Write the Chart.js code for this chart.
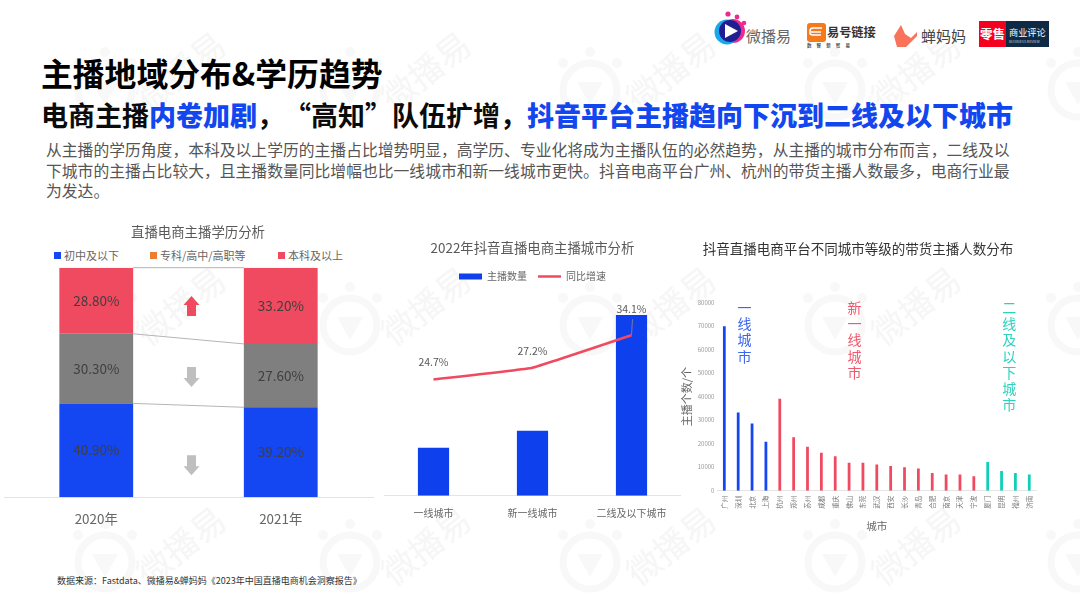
<!DOCTYPE html>
<html lang="zh-CN">
<head>
<meta charset="utf-8">
<title>主播地域分布&学历趋势</title>
<script src="https://cdn.jsdelivr.net/npm/chart.js@4"></script>
<style>
html,body{margin:0;padding:0;background:#fff;}
body{width:1080px;height:608px;position:relative;overflow:hidden;font-family:"Noto Sans CJK SC","Noto Sans",sans-serif;text-spacing-trim:space-all;font-feature-settings:"chws" 0;}
.abs{position:absolute;white-space:nowrap;}
canvas{position:absolute;}
#h1{left:41px;top:49px;font-size:31.8px;line-height:46px;font-weight:700;color:#000;}
#h2{left:41px;top:95px;font-size:27px;line-height:40px;font-weight:700;color:#0b0b0b;}
#h2 b{color:#1246ee;}
#intro{left:46px;top:140px;font-size:15.8px;line-height:20.5px;color:#555;}
#source{left:57px;top:574px;font-size:9px;line-height:14px;color:#333;}
#legend1{left:0;top:247px;font-size:11px;line-height:16px;color:#666;}
#legend1 span{position:absolute;top:0;white-space:nowrap;}
#legend1 i{position:absolute;left:-10px;top:5px;width:6.5px;height:6.5px;}
.wm{position:absolute;font-size:34px;line-height:40px;color:#f6f6f6;transform:translate(-50%,-50%) rotate(-38deg);white-space:nowrap;}
#bg,#logos{position:absolute;left:0;top:0;}
</style>
</head>
<body>
<svg id="bg" width="1080" height="608"></svg>
<div id="marks"></div>

<svg id="logos" width="1080" height="60">
  <circle cx="728" cy="14" r="2.6" fill="#ee2a8f"/><circle cx="737" cy="17" r="2.4" fill="#ee2a8f"/><circle cx="744" cy="23" r="2.3" fill="#ee2a8f"/>
  <circle cx="733" cy="31" r="12" fill="#ee2a8f"/><circle cx="727" cy="32" r="12.5" fill="#18a8ee"/><circle cx="730" cy="31" r="11" fill="#1f1f92"/>
  <path d="M725 24 L738 31 L725 38 Z" fill="#fff"/>
  <text x="746" y="42" font-size="15" fill="#666">微播易</text>
  <rect x="807" y="23" width="19" height="19" rx="3" fill="#f47a1c"/>
  <path d="M822 28 H813 Q810 28 810 31 V33 Q810 35 813 35 H821 M811 32 H821" stroke="#fff" stroke-width="1.6" fill="none"/>
  <text x="827" y="37" font-size="12.2" font-weight="700" fill="#333">易号链接</text>
  <text x="807" y="47" font-size="4.5" font-weight="700" fill="#555" xml:space="preserve">数     智     新     贸     易</text>
  <path d="M894 36 L901 25 L905 34 L911 38 L917 32 L917 36 L906 47 L897 47 Z" fill="#f8735a"/>
  <text x="921" y="42" font-size="15" fill="#444">蝉妈妈</text>
  <rect x="979" y="21" width="27" height="26" fill="#f5001e"/>
  <rect x="1006" y="21" width="43" height="26" fill="#0e2a44"/>
  <text x="980" y="39" font-size="12.5" font-weight="700" fill="#fff">零售</text>
  <text x="1009" y="36" font-size="9.2" fill="#fff">商业评论</text>
  <text x="1009" y="43" font-size="3.6" fill="#ccd">BUSINESS REVIEW</text>
</svg>

<div class="abs" id="h1">主播地域分布&amp;学历趋势</div>
<div class="abs" id="h2">电商主播<b>内卷加剧</b>，“高知”队伍扩增，<b>抖音平台主播趋向下沉到二线及以下城市</b></div>
<div class="abs" id="intro">从主播的学历角度，本科及以上学历的主播占比增势明显，高学历、专业化将成为主播队伍的必然趋势，从主播的城市分布而言，二线及以<br>下城市的主播占比较大，且主播数量同比增幅也比一线城市和新一线城市更快。抖音电商平台广州、杭州的带货主播人数最多，电商行业最<br>为发达。</div>

<div class="abs" id="legend1"></div>
<canvas id="eduChart" style="left:4px;top:222px" width="388" height="314"></canvas>
<canvas id="tierChart" style="left:384px;top:238px" width="297" height="290"></canvas>
<canvas id="cityChart" style="left:680px;top:236px" width="400" height="300"></canvas>

<div class="abs" id="source">数据来源：Fastdata、微播易&amp;蝉妈妈《2023年中国直播电商机会洞察报告》</div>

<script>
// education chart
const eduYears = ["2020年","2021年"];
const eduNames = ["初中及以下","专科/高中/高职等","本科及以上"];
const eduLow = [40.9,39.2];
const eduMid = [30.3,27.6];
const eduHigh = [28.8,33.2];

// city tier chart
const tierNames = ["一线城市","新一线城市","二线及以下城市"];
const tierCount = [48,65,181];
const tierGrowth = [24.7,27.2,34.1];

// city chart
const cityNames = ["广州","深圳","北京","上海","杭州","郑州","苏州","成都","重庆","佛山","东莞","武汉","西安","长沙","青岛","合肥","南京","天津","宁波","厦门","昆明","福州","济南"];
const cityHosts = [70000,33300,28600,20800,39100,22700,18700,16200,14700,11900,11900,11200,10500,10000,9400,7500,6900,6900,6100,12200,8400,7500,6900];
const cityTiers = [0,0,0,0,1,1,1,1,1,1,1,1,1,1,1,1,1,1,1,2,2,2,2];
const tierLabels = ["一线城市","新一线城市","二线及以下城市"];

const blue="#1446f2", red="#ef4a5f", grey="#7f7f7f", orange="#ed7d31", teal="#10cfb8";
const axisGrey="#e4e4e4";
Chart.defaults.font.family='"Noto Sans CJK SC","Noto Sans",sans-serif';
Chart.defaults.animation=false;
Chart.defaults.responsive=false;

// watermark
const marks=document.getElementById("marks");
[70,305,545].forEach(y=>{
  [180,425,670,915].forEach(x=>{
    const d=document.createElement("div");
    d.className="wm"; d.textContent="微播易";
    d.style.left=x+"px"; d.style.top=y+"px";
    marks.appendChild(d);
  });
});
const bg=document.getElementById("bg");
let bgHtml="";
[90,325,562].forEach(y=>{
  [105,350,590,835,1078].forEach(x=>{
    bgHtml+=`<circle cx="${x}" cy="${y}" r="27" fill="none" stroke="#f8f8f8" stroke-width="7"/>`
      +`<path d="M${x-13} ${y-8} H${x+13} L${x} ${y+15} Z" fill="#f8f8f8"/>`
      +`<circle cx="${x-27}" cy="${y-27}" r="5" fill="#f8f8f8"/><circle cx="${x}" cy="${y-38}" r="5" fill="#f8f8f8"/><circle cx="${x+27}" cy="${y-27}" r="5" fill="#f8f8f8"/>`;
  });
});
bg.innerHTML=bgHtml;

// legend for the first chart, middle swatch is orange in the original
const legendSwatch=[blue,orange,red];
const legendLeft=[64,160,288];
const legend1=document.getElementById("legend1");
eduNames.forEach((n,i)=>{
  const s=document.createElement("span");
  s.style.left=legendLeft[i]+"px";
  s.innerHTML=`<i style="background:${legendSwatch[i]}"></i>${n}`;
  legend1.appendChild(s);
});

const eduOverlay={
  id:"eduOverlay",
  afterDatasetsDraw(chart){
    const ctx=chart.ctx, y=chart.scales.y;
    ctx.save();
    // connector lines between the two columns
    ctx.strokeStyle="#b5b5b5"; ctx.lineWidth=1;
    chart.data.datasets.forEach((ds,i)=>{
      const bars=chart.getDatasetMeta(i).data;
      ctx.beginPath();
      ctx.moveTo(bars[0].x+bars[0].width/2,bars[0].y);
      ctx.lineTo(bars[1].x-bars[1].width/2,bars[1].y);
      ctx.stroke();
    });
    // segment labels
    ctx.fillStyle="#3f3f3f"; ctx.font='13.5px "Noto Sans CJK SC"';
    ctx.textAlign="center"; ctx.textBaseline="middle";
    chart.data.datasets.forEach((ds,i)=>{
      chart.getDatasetMeta(i).data.forEach((b,j)=>{
        ctx.fillText(ds.data[j].toFixed(2)+"%",b.x,(b.y+b.base)/2);
      });
    });
    // arrows
    const cx=(chart.getDatasetMeta(0).data[0].x+chart.getDatasetMeta(0).data[1].x)/2+3;
    [[83.3,-1,red],[52.4,1,"#bfbfbf"],[14,1,"#bfbfbf"]].forEach(([v,dir,col])=>{
      const m=y.getPixelForValue(v);
      ctx.fillStyle=col;
      ctx.beginPath();
      ctx.moveTo(cx,m+dir*10);
      ctx.lineTo(cx+8,m+dir*1);
      ctx.lineTo(cx+4.5,m+dir*1);
      ctx.lineTo(cx+4.5,m-dir*10);
      ctx.lineTo(cx-4.5,m-dir*10);
      ctx.lineTo(cx-4.5,m+dir*1);
      ctx.lineTo(cx-8,m+dir*1);
      ctx.closePath();
      ctx.fill();
    });
    ctx.restore();
  }
};

new Chart(document.getElementById("eduChart"),{
  type:"bar",
  data:{
    labels:eduYears,
    datasets:[
      {label:eduNames[0],data:eduLow,backgroundColor:blue},
      {label:eduNames[1],data:eduMid,backgroundColor:grey},
      {label:eduNames[2],data:eduHigh,backgroundColor:red}
    ]
  },
  options:{
    layout:{autoPadding:false},
    categoryPercentage:1,
    barPercentage:0.4,
    plugins:{
      legend:{display:false},tooltip:{enabled:false},
      title:{display:true,text:"直播电商主播学历分析",color:"#595959",font:{size:13.4,weight:"normal"},padding:{top:2,bottom:27.6}}
    },
    scales:{
      x:{stacked:true,grid:{display:false,drawTicks:false},border:{color:axisGrey},
         ticks:{color:"#666",font:{size:13.4},padding:14,maxRotation:0},
         afterFit(s){s.height=38.7;}},
      y:{stacked:true,position:"right",min:0,max:100,grid:{display:false,drawTicks:false},border:{display:false},
         ticks:{display:false},afterFit(s){s.width=19;}}
    }
  },
  plugins:[eduOverlay]
});

const tierOverlay={
  id:"tierOverlay",
  afterDatasetsDraw(chart){
    const ctx=chart.ctx, pts=chart.getDatasetMeta(1).data;
    const lift=[17,17,26];
    ctx.save();
    // leader line of the last label
    ctx.strokeStyle="#8c8c8c"; ctx.lineWidth=0.8;
    ctx.beginPath();
    ctx.moveTo(pts[2].x,pts[2].y);
    ctx.lineTo(pts[2].x+1,pts[2].y-16);
    ctx.stroke();
    ctx.fillStyle="#595959"; ctx.font='10.5px "Noto Sans CJK SC"';
    ctx.textAlign="center"; ctx.textBaseline="middle";
    pts.forEach((p,i)=>ctx.fillText(tierGrowth[i].toFixed(1)+"%",p.x,p.y-lift[i]));
    ctx.restore();
  }
};

new Chart(document.getElementById("tierChart"),{
  data:{
    labels:tierNames,
    datasets:[
      {type:"bar",label:"主播数量",data:tierCount,backgroundColor:"#0f40ee",yAxisID:"y",order:2,
       categoryPercentage:1,barPercentage:0.315,pointStyle:"rect"},
      {type:"line",label:"同比增速",data:tierGrowth,borderColor:red,backgroundColor:red,borderWidth:2.5,
       pointRadius:0,tension:0.08,yAxisID:"y1",order:1,pointStyle:"line"}
    ]
  },
  options:{
    layout:{autoPadding:false},
    plugins:{
      tooltip:{enabled:false},
      title:{display:true,text:"2022年抖音直播电商主播城市分析",color:"#595959",font:{size:13.4,weight:"normal"},padding:{top:2,bottom:4.4}},
      legend:{position:"top",labels:{usePointStyle:true,pointStyleWidth:23,boxHeight:6,padding:11,color:"#666",font:{size:10},
        sort:(a,b)=>a.datasetIndex-b.datasetIndex}}
    },
    scales:{
      x:{grid:{display:false,drawTicks:false},border:{color:axisGrey},
         ticks:{color:"#666",font:{size:10},padding:12,maxRotation:0,autoSkip:false},
         afterFit(s){s.height=32.3;}},
      y:{display:false,min:0,max:204.5},
      y1:{display:false,min:0,max:43.4}
    }
  },
  plugins:[tierOverlay]
});

const tierColors=[blue,red,teal];
const tierTextColors=["#3a66f0","#ef5a6e","#2bd3be"];
const cityOverlay={
  id:"cityOverlay",
  afterDatasetsDraw(chart){
    const ctx=chart.ctx, x=chart.scales.x, top=chart.chartArea.top;
    // tier captions, stacked char by char, anchored to a city slot
    const anchors=[1.45,9.4,20.55];
    ctx.save();
    ctx.font='14px "Noto Sans CJK SC"';
    ctx.textAlign="center"; ctx.textBaseline="middle";
    tierLabels.forEach((t,i)=>{
      ctx.fillStyle=tierTextColors[i];
      [...t].forEach((c,k)=>ctx.fillText(c,x.getPixelForValue(anchors[i]),top+5+k*16.2));
    });
    ctx.restore();
  }
};

new Chart(document.getElementById("cityChart"),{
  type:"bar",
  data:{
    labels:cityNames,
    datasets:[{label:"主播个数",data:cityHosts,backgroundColor:cityTiers.map(t=>tierColors[t]),
      categoryPercentage:1,barPercentage:0.2}]
  },
  options:{
    layout:{autoPadding:false,padding:{right:43.8}},
    plugins:{
      legend:{display:false},tooltip:{enabled:false},
      title:{display:true,text:"抖音直播电商平台不同城市等级的带货主播人数分布",color:"#333",font:{size:13.5,weight:"normal"},padding:{top:5,bottom:45.5}}
    },
    scales:{
      x:{grid:{display:false,drawTicks:false},border:{color:axisGrey},
         ticks:{color:"#777",font:{size:6.5},padding:5,minRotation:90,maxRotation:90,autoSkip:false},
         title:{display:true,text:"城市",color:"#666",font:{size:10.5},padding:{top:5,bottom:4}},
         afterFit(s){s.height=45.3;}},
      y:{min:0,max:80000,grid:{display:false,drawTicks:false},border:{display:false},
         ticks:{color:"#999",font:{size:6},padding:3,stepSize:10000,callback:v=>String(v)},
         title:{display:true,text:"主播个数/个",color:"#666",font:{size:11},padding:{top:0,bottom:2}},
         afterFit(s){s.width=37.4;}}
    }
  },
  plugins:[cityOverlay]
});
</script>
</body>
</html>
